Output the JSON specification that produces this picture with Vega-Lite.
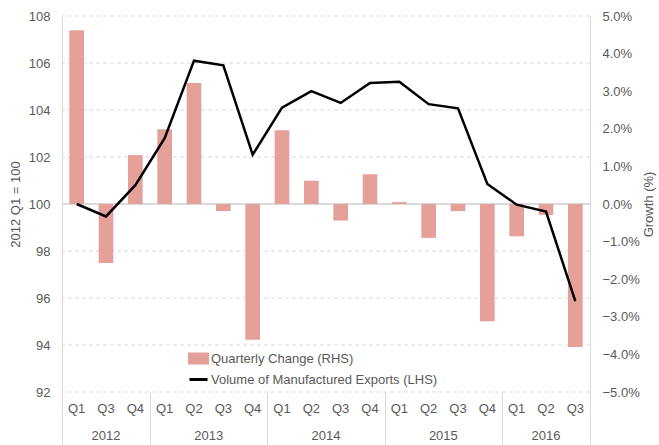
{
  "$schema": "https://vega.github.io/schema/vega-lite/v6.json",
  "width": 528,
  "height": 376,
  "autosize": "none",
  "padding": {"left": 62, "top": 16, "right": 69, "bottom": 53},
  "config": {
    "font": "Liberation Sans",
    "view": {"stroke": null},
    "axis": {"labelColor": "#595959", "titleColor": "#595959", "labelFontSize": 13, "titleFontSize": 13, "titleFontWeight": "normal", "labelFont": "Liberation Sans", "titleFont": "Liberation Sans"}
  },
  "datasets": {
    "gridlines": [
      {"level": 92}, {"level": 94}, {"level": 96}, {"level": 98},
      {"level": 102}, {"level": 104}, {"level": 106}, {"level": 108}
    ]
  },
  "data": {
    "values": [
      {"period": "2012-Q1", "change": 0.0462, "volume": 100.0},
      {"period": "2012-Q3", "change": -0.0157, "volume": 99.47},
      {"period": "2012-Q4", "change": 0.0130, "volume": 100.8},
      {"period": "2013-Q1", "change": 0.0199, "volume": 102.8},
      {"period": "2013-Q2", "change": 0.0322, "volume": 106.1},
      {"period": "2013-Q3", "change": -0.0019, "volume": 105.9},
      {"period": "2013-Q4", "change": -0.0361, "volume": 102.1},
      {"period": "2014-Q1", "change": 0.0196, "volume": 104.1},
      {"period": "2014-Q2", "change": 0.0062, "volume": 104.8},
      {"period": "2014-Q3", "change": -0.0044, "volume": 104.3},
      {"period": "2014-Q4", "change": 0.0079, "volume": 105.15},
      {"period": "2015-Q1", "change": 0.0005, "volume": 105.2},
      {"period": "2015-Q2", "change": -0.0090, "volume": 104.25},
      {"period": "2015-Q3", "change": -0.0019, "volume": 104.07},
      {"period": "2015-Q4", "change": -0.0312, "volume": 100.85},
      {"period": "2016-Q1", "change": -0.0086, "volume": 99.97},
      {"period": "2016-Q2", "change": -0.0029, "volume": 99.68},
      {"period": "2016-Q3", "change": -0.0380, "volume": 95.87}
    ]
  },
  "layer": [
    {
      "mark": {"type": "point", "opacity": 0},
      "encoding": {
        "x": {
          "field": "period", "type": "nominal", "sort": null,
          "scale": {"type": "band", "paddingInner": 0, "paddingOuter": 0},
          "axis": {
            "orient": "bottom", "title": null, "values": ["2012-Q3", "2013-Q2", "2014-Q2", "2015-Q2", "2016-Q2"],
            "labelExpr": "slice(datum.value, 0, 4)", "labelAngle": 0, "labelPadding": 37,
            "labelOffset": {"condition": {"test": "datum.value == '2012-Q3' || datum.value == '2016-Q2'", "value": 0}, "value": 14.67},
            "ticks": false, "domain": false, "grid": false
          }
        },
        "y": {
          "field": "volume", "type": "quantitative",
          "scale": {"domain": [92, 108], "nice": false, "zero": false},
          "axis": {
            "orient": "left", "values": [92, 94, 96, 98, 100, 102, 104, 106, 108],
            "title": "2012 Q1 = 100", "titlePadding": 6,
            "grid": false, "ticks": false, "domainColor": "#d9d9d9", "labelPadding": 12
          }
        }
      }
    },
    {
      "data": {"name": "gridlines"},
      "mark": {"type": "rule", "color": "#d9d9d9", "strokeWidth": 1, "strokeDash": [4, 3]},
      "encoding": {
        "y": {"field": "level", "type": "quantitative", "scale": {"domain": [92, 108], "nice": false, "zero": false}, "axis": null}
      }
    },
    {
      "mark": {"type": "rule", "color": "#d9d9d9", "strokeWidth": 1},
      "encoding": {
        "y": {"datum": 100, "type": "quantitative", "scale": {"domain": [92, 108], "nice": false, "zero": false}, "axis": null}
      }
    },
    {
      "mark": {"type": "bar", "width": {"band": 0.5}},
      "encoding": {
        "x": {
          "field": "period", "type": "nominal", "sort": null,
          "axis": {
            "orient": "bottom", "title": null, "labels": false, "domain": false, "grid": false,
            "ticks": true, "tickBand": "extent", "tickSize": 53, "tickColor": "#d9d9d9",
            "tickOpacity": {"condition": {"test": "datum.extra || indexof(['2012-Q4','2013-Q4','2014-Q4','2015-Q4','2016-Q3'], datum.value) >= 0", "value": 1}, "value": 0}
          }
        },
        "y": {
          "field": "change", "type": "quantitative",
          "scale": {"domain": [-0.05, 0.05], "nice": false},
          "axis": {
            "orient": "right", "format": ".1%",
            "values": [-0.05, -0.04, -0.03, -0.02, -0.01, 0, 0.01, 0.02, 0.03, 0.04, 0.05],
            "title": "Growth (%)", "titleAngle": 270, "titlePadding": 16,
            "grid": false, "ticks": false, "domainColor": "#d9d9d9", "labelPadding": 12
          }
        },
        "color": {
          "datum": "Quarterly Change (RHS)", "type": "nominal",
          "scale": {"domain": ["Quarterly Change (RHS)", "Volume of Manufactured Exports (LHS)"], "range": ["#E6A09A", "#000000"]},
          "legend": {
            "title": null, "orient": "none", "legendX": 126, "legendY": 332, "padding": 0,
            "labelFontSize": 13, "labelColor": "#595959", "labelFont": "Liberation Sans", "labelLimit": 400, "labelOffset": 2,
            "symbolSize": 324, "rowPadding": 0,
            "encode": {
              "symbols": {
                "update": {
                  "shape": {"signal": "datum.value === 'Quarterly Change (RHS)' ? 'M-1,-0.5H1V0.5H-1Z' : 'M-1,0H1'"},
                  "fill": {"signal": "datum.value === 'Quarterly Change (RHS)' ? '#E6A09A' : 'transparent'"},
                  "stroke": {"signal": "datum.value === 'Quarterly Change (RHS)' ? 'transparent' : '#000000'"},
                  "strokeWidth": {"value": 3},
                  "opacity": {"value": 1}
                }
              }
            }
          }
        }
      }
    },
    {
      "mark": {"type": "line", "strokeWidth": 2.5},
      "encoding": {
        "x": {
          "field": "period", "type": "nominal", "sort": null,
          "axis": {"orient": "bottom", "title": null, "labelExpr": "slice(datum.value, 5)", "labelAngle": 0, "labelPadding": 10, "ticks": false, "domain": false, "grid": false}
        },
        "y": {
          "field": "volume", "type": "quantitative",
          "scale": {"domain": [92, 108], "nice": false, "zero": false},
          "axis": null
        },
        "color": {"datum": "Volume of Manufactured Exports (LHS)", "type": "nominal"}
      }
    }
  ],
  "resolve": {"scale": {"y": "independent"}, "axis": {"x": "independent"}}
}
